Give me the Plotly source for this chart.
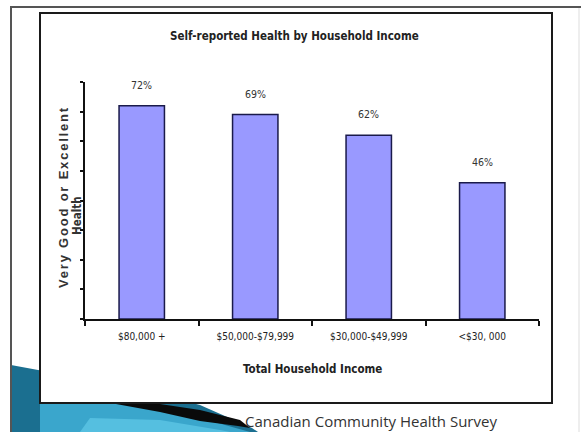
import plotly.graph_objects as go

# ---- data ----
categories = ["$80,000 +", "$50,000-$79,999", "$30,000-$49,999", "<$30, 000"]
values = [72, 69, 62, 46]
value_labels = ["72%", "69%", "62%", "46%"]
y_ticks = [0, 10, 20, 30, 40, 50, 60, 70, 80]

W, H = 581, 432
L, R, T, B = 85, 539, 82, 319  # plot area in pixels


def px(x):
    return (x - L) / (R - L)


def py(y):
    return (B - y) / (B - T)


NARROW = "Liberation Sans Narrow, Arial Narrow, DejaVu Sans Condensed, Liberation Sans, Arial"

fig = go.Figure()
fig.add_trace(go.Bar(
    x=categories, y=values, width=0.4,
    marker=dict(color="#9999FF", line=dict(color="#1a1a4a", width=1.5)),
    hoverinfo="skip",
))

annotations = []
for c, v, t in zip(categories, values, value_labels):
    annotations.append(dict(x=c, y=v, xref="x", yref="y", text=t, showarrow=False,
                            yshift=21, font=dict(family=NARROW, size=10.5, color="#333")))

annotations += [
    dict(x=px(294), y=py(36), xref="paper", yref="paper", text="<b>Self-reported Health by Household Income</b>",
         showarrow=False, xanchor="center", yanchor="middle", font=dict(family=NARROW, size=11.5, color="#222")),
    dict(x=px(312), y=py(369), xref="paper", yref="paper", text="<b>Total Household Income</b>",
         showarrow=False, xanchor="center", yanchor="middle", font=dict(family=NARROW, size=11.5, color="#222")),
    dict(x=px(63), y=py(197), xref="paper", yref="paper",
         text="<span style='letter-spacing:1.8px'><b>Very Good or Excellent</b></span>",
         showarrow=False, textangle=-90, xanchor="center", yanchor="middle",
         font=dict(family="Liberation Sans, Arial", size=13, color="#333")),
    dict(x=px(77), y=py(216), xref="paper", yref="paper", text="<b>Health</b>",
         showarrow=False, textangle=-90, xanchor="center", yanchor="middle",
         font=dict(family=NARROW, size=11.5, color="#333")),
    dict(x=px(371), y=py(421), xref="paper", yref="paper", text="Canadian Community Health Survey",
         showarrow=False, xanchor="center", yanchor="middle",
         font=dict(family="Open Sans, Noto Sans", size=15, color="#333")),
]


def path(points):
    d = "M " + " L ".join(f"{px(x):.5f},{py(y):.5f}" for x, y in points) + " Z"
    return d


shapes = [
    # swoosh decoration
    dict(type="path", xref="paper", yref="paper", layer="below", line=dict(width=0),
         fillcolor="#1b6f90",
         path=path([(11, 365), (130, 387), (200, 405), (252, 428), (258, 432), (11, 432)])),
    dict(type="path", xref="paper", yref="paper", layer="below", line=dict(width=0),
         fillcolor="#3aa6cc",
         path=path([(40, 395), (130, 404), (200, 418), (250, 432), (40, 432)])),
    dict(type="path", xref="paper", yref="paper", layer="below", line=dict(width=0),
         fillcolor="#55bfe0",
         path=path([(90, 418), (160, 420), (220, 430), (230, 432), (80, 432)])),
    dict(type="path", xref="paper", yref="paper", layer="below", line=dict(width=0),
         fillcolor="#0a0a0a",
         path=path([(105, 399), (160, 404), (200, 410), (240, 420), (250, 428),
                    (238, 426), (200, 421), (160, 412), (105, 402)])),
    # outer slide frame
    dict(type="line", xref="paper", yref="paper", layer="below", x0=px(11), x1=px(11), y0=py(6), y1=py(432),
         line=dict(color="#555", width=2)),
    dict(type="line", xref="paper", yref="paper", layer="below", x0=px(10), x1=px(581), y0=py(7), y1=py(7),
         line=dict(color="#555", width=2)),
    dict(type="line", xref="paper", yref="paper", layer="below", x0=px(579), x1=px(579), y0=py(8), y1=py(432),
         line=dict(color="#ddd", width=1)),
    # inner chart box
    dict(type="rect", xref="paper", yref="paper", layer="below", x0=px(40), x1=px(552), y0=py(13), y1=py(403),
         fillcolor="white", line=dict(color="#1a1a1a", width=2)),
]

fig.update_layout(
    width=W, height=H,
    margin=dict(l=L, r=W - R, t=T, b=H - B, pad=0),
    paper_bgcolor="white", plot_bgcolor="rgba(0,0,0,0)",
    showlegend=False,
    bargap=0.6,
    annotations=annotations,
    shapes=shapes,
    xaxis=dict(type="category", categoryorder="array", categoryarray=categories,
               range=[-0.5, 3.5], tickson="boundaries", ticks="outside", ticklen=5, tickwidth=1.5,
               tickcolor="#111", showline=True, linecolor="#111", linewidth=1.5, showgrid=False,
               zeroline=False, ticklabelstandoff=7,
               tickfont=dict(family=NARROW, size=10, color="#222")),
    xaxis2=dict(overlaying="x", range=[-0.5, 3.5], tickvals=[-0.5, 0.5, 1.5, 2.5, 3.5],
                ticks="inside", ticklen=3, tickwidth=1.5, tickcolor="#111", showticklabels=False,
                showline=False, showgrid=False, zeroline=False, anchor="y", side="bottom"),
    yaxis=dict(range=[0, 80], tickvals=y_ticks, showticklabels=False, ticks="outside", ticklen=3,
               tickwidth=1.5, tickcolor="#111", showline=True, linecolor="#111", linewidth=1.5,
               showgrid=False, zeroline=False),
    yaxis2=dict(overlaying="y", range=[0, 80], tickvals=y_ticks, showticklabels=False, ticks="inside",
                ticklen=3, tickwidth=1.5, tickcolor="#111", showline=False, showgrid=False,
                zeroline=False, anchor="x", side="left"),
)

fig.write_html("out.html", config={"displayModeBar": False},
               post_script="document.body.style.margin='0';document.body.style.overflow='hidden';")
